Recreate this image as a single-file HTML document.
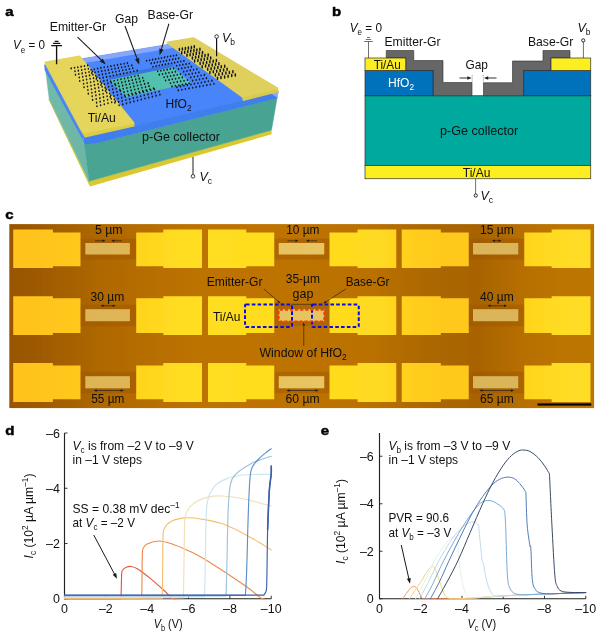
<!DOCTYPE html>
<html lang="en">
<head>
<meta charset="utf-8">
<title>Figure</title>
<style>
html,body{margin:0;padding:0;background:#fff}
svg{display:block}
text{font-family:'Liberation Sans', sans-serif}
</style>
</head>
<body>
<svg width="600" height="638" viewBox="0 0 600 638" fill="#111" style="will-change:transform">
<rect width="600" height="638" fill="#fff"/>
<g id="panel-a">
<defs><linearGradient id="aGf" x1="0" y1="0" x2="1" y2="0"><stop offset="0" stop-color="#49a493"/><stop offset="1" stop-color="#48a392"/></linearGradient><linearGradient id="aGl" x1="0" y1="0" x2="1" y2="1"><stop offset="0" stop-color="#72baaa"/><stop offset="1" stop-color="#6cb6a6"/></linearGradient><linearGradient id="aBt" x1="0" y1="0" x2="0.25" y2="1"><stop offset="0" stop-color="#4e88fa"/><stop offset="0.5" stop-color="#4884fa"/><stop offset="1" stop-color="#4884fa"/></linearGradient><linearGradient id="aY" x1="0" y1="0" x2="1" y2="1"><stop offset="0" stop-color="#ecd056"/><stop offset="1" stop-color="#f0d348"/></linearGradient><linearGradient id="aW" x1="0" y1="0" x2="1" y2="0"><stop offset="0" stop-color="#50beac"/><stop offset="1" stop-color="#54c2b1"/></linearGradient></defs>
<polygon points="49.00,98.50 89.00,181.00 271.50,130.00 271.60,134.20 89.90,186.40 48.50,99.50" fill="#dac832"/>
<polygon points="45.40,69.30 84.60,142.60 89.00,181.30 49.20,99.20" fill="url(#aGl)" stroke="#6fb8a8" stroke-width="0.4"/>
<path d="M84.5 144 Q97 142.6 112 139.2 L277.2 97.8 L271.5 130.2 L89 181.3 Z" fill="url(#aGf)" stroke="#47a690" stroke-width="0.4"/>
<polygon points="44.30,64.00 83.00,136.00 84.60,144.60 84.40,143.00 44.60,70.00" fill="#4a84f4"/>
<polygon points="83.00,136.00 278.50,91.00 277.20,98.30 112.00,139.60 97.00,143.00 84.50,144.60" fill="#407eee"/>
<polygon points="44.50,65.00 194.50,40.00 278.50,92.00 84.00,138.00" fill="url(#aBt)" stroke="#4884fa" stroke-width="0.5"/>
<polygon points="74.64,59.98 174.48,43.34 179.58,46.85 77.77,64.24" fill="#88a6fa"/>
<polygon points="109.00,76.50 173.00,63.80 173.00,67.50 109.00,80.20" fill="#3a74e2"/>
<polygon points="109.00,80.00 173.00,67.30 191.00,83.00 126.00,97.30" fill="url(#aW)"/>
<polygon points="81.50,130.50 87.60,132.00 133.80,123.40 134.00,125.80 85.00,136.80" fill="#dccd45" stroke="#dccd45" stroke-width="1.2" stroke-linejoin="round"/>
<polygon points="45.30,62.60 79.60,56.60 133.40,122.80 87.60,131.40 84.60,132.50 81.50,130.00" fill="#e5d55a" stroke="#e5d55a" stroke-width="2.0" stroke-linejoin="round"/>
<polygon points="270.50,93.20 278.60,91.60 277.40,97.80" fill="#93a9f8"/>
<polygon points="242.60,97.40 277.60,89.20 277.90,91.60 243.40,100.40" fill="#d9cb48" stroke="#d9cb48" stroke-width="1.2" stroke-linejoin="round"/>
<polygon points="167.60,42.60 193.40,38.20 277.40,88.40 242.60,96.60" fill="#dfd05e" stroke="#dfd05e" stroke-width="2.0" stroke-linejoin="round"/>
<path d="M71.2 68.1v0.6M74.5 67.5v0.6M77.8 66.9v0.6M81.1 66.3v0.6M84.4 65.7v0.6M87.7 65.1v0.6M91.0 69.5v0.6M94.3 68.9v0.6M97.6 68.2v0.6M100.9 67.6v0.6M104.2 67.0v0.6M107.6 66.4v0.6M110.9 65.8v0.6M114.2 65.2v0.6M117.5 64.6v0.6M120.8 64.0v0.6M124.1 63.4v0.6M127.4 62.8v0.6M75.0 71.0v0.6M78.3 70.3v0.6M81.7 69.7v0.6M85.0 69.0v0.6M88.4 68.4v0.6M91.7 72.8v0.6M95.0 72.1v0.6M98.4 71.5v0.6M101.7 70.8v0.6M105.1 70.2v0.6M108.4 69.6v0.6M111.7 68.9v0.6M115.1 68.3v0.6M118.4 67.6v0.6M121.7 67.0v0.6M125.1 66.4v0.6M128.4 65.7v0.6M131.8 65.1v0.6M75.5 74.4v0.6M78.8 73.7v0.6M82.2 73.1v0.6M85.6 72.4v0.6M89.0 71.7v0.6M92.3 71.1v0.6M95.7 75.4v0.6M99.1 74.7v0.6M102.4 74.1v0.6M105.8 73.4v0.6M109.2 72.7v0.6M112.6 72.0v0.6M115.9 71.4v0.6M119.3 70.7v0.6M122.7 70.0v0.6M126.1 69.4v0.6M129.4 68.7v0.6M132.8 68.0v0.6M79.3 77.2v0.6M82.7 76.5v0.6M86.1 75.8v0.6M89.5 75.1v0.6M92.9 74.4v0.6M96.3 78.7v0.6M99.7 78.0v0.6M103.2 77.3v0.6M106.6 76.6v0.6M110.0 75.9v0.6M113.4 75.2v0.6M116.8 74.5v0.6M120.2 73.8v0.6M123.6 73.1v0.6M127.0 72.4v0.6M130.4 71.7v0.6M133.8 71.0v0.6M137.2 70.3v0.6M79.7 80.7v0.6M83.2 80.0v0.6M86.6 79.2v0.6M90.1 78.5v0.6M93.5 77.8v0.6M96.9 77.1v0.6M100.4 81.3v0.6M103.8 80.6v0.6M107.3 79.9v0.6M110.7 81.1v0.6M114.1 80.4v0.6M117.6 79.7v0.6M121.0 78.9v0.6M124.5 78.2v0.6M127.9 77.5v0.6M131.3 76.7v0.6M134.8 76.0v0.6M138.2 75.3v0.6M83.6 83.5v0.6M87.1 82.7v0.6M90.6 82.0v0.6M94.0 81.2v0.6M97.5 80.4v0.6M101.0 84.7v0.6M104.5 83.9v0.6M107.9 83.1v0.6M111.4 82.4v0.6M114.9 83.6v0.6M118.3 82.9v0.6M121.8 82.1v0.6M125.3 81.3v0.6M128.8 80.6v0.6M132.2 79.8v0.6M135.7 79.1v0.6M139.2 78.3v0.6M142.7 77.5v0.6M84.0 87.0v0.6M87.5 86.2v0.6M91.0 85.4v0.6M94.5 84.6v0.6M98.0 83.8v0.6M101.6 83.0v0.6M105.1 87.3v0.6M108.6 86.5v0.6M112.1 85.7v0.6M115.6 84.9v0.6M119.1 86.1v0.6M122.6 85.3v0.6M126.1 84.5v0.6M129.6 83.7v0.6M133.1 82.9v0.6M136.6 82.1v0.6M140.1 81.3v0.6M143.6 80.5v0.6M87.9 89.7v0.6M91.5 88.9v0.6M95.0 88.1v0.6M98.6 87.3v0.6M102.1 86.4v0.6M105.6 90.6v0.6M109.2 89.8v0.6M112.7 89.0v0.6M116.2 88.2v0.6M119.8 89.3v0.6M123.3 88.5v0.6M126.9 87.7v0.6M130.4 86.9v0.6M133.9 86.1v0.6M137.5 85.2v0.6M141.0 84.4v0.6M144.6 83.6v0.6M148.1 82.8v0.6M88.3 93.3v0.6M91.9 92.4v0.6M95.4 91.6v0.6M99.0 90.7v0.6M102.6 89.9v0.6M106.2 89.0v0.6M109.7 93.2v0.6M113.3 92.3v0.6M116.9 91.5v0.6M120.5 90.6v0.6M124.0 91.8v0.6M127.6 90.9v0.6M131.2 90.1v0.6M134.7 89.2v0.6M138.3 88.4v0.6M141.9 87.5v0.6M145.5 86.7v0.6M149.0 85.8v0.6M92.2 96.0v0.6M95.9 95.1v0.6M99.5 94.2v0.6M103.1 93.4v0.6M106.7 92.5v0.6M110.3 96.6v0.6M113.9 95.7v0.6M117.5 94.8v0.6M121.1 93.9v0.6M124.7 95.1v0.6M128.3 94.2v0.6M131.9 93.3v0.6M135.5 92.4v0.6M139.1 91.5v0.6M142.7 90.6v0.6M146.3 89.8v0.6M149.9 88.9v0.6M153.5 88.0v0.6M92.6 99.6v0.6M96.2 98.7v0.6M99.9 97.8v0.6M103.5 96.8v0.6M107.1 95.9v0.6M110.8 95.0v0.6M114.4 99.1v0.6M118.1 98.2v0.6M121.7 97.3v0.6M125.3 96.4v0.6M129.0 95.5v0.6M132.6 94.5v0.6M136.2 93.6v0.6M139.9 92.7v0.6M143.5 91.8v0.6M147.2 90.9v0.6M150.8 90.0v0.6M154.4 89.1v0.6M96.6 102.3v0.6M100.2 101.3v0.6M103.9 100.4v0.6M107.6 99.4v0.6M111.2 98.5v0.6M114.9 102.5v0.6M118.6 101.6v0.6M122.3 100.7v0.6M125.9 99.7v0.6M129.6 98.8v0.6M133.3 97.8v0.6M137.0 96.9v0.6M140.6 95.9v0.6M144.3 95.0v0.6M148.0 94.1v0.6M151.6 93.1v0.6M155.3 92.2v0.6M159.0 91.2v0.6M96.9 105.9v0.6M100.6 104.9v0.6M104.3 103.9v0.6M108.0 103.0v0.6M111.7 102.0v0.6M115.4 101.0v0.6M119.1 105.0v0.6M122.8 104.1v0.6M126.5 103.1v0.6M130.2 102.1v0.6M133.9 101.1v0.6M137.6 100.2v0.6M141.3 99.2v0.6M145.0 98.2v0.6M148.7 97.2v0.6M152.4 96.3v0.6M156.1 95.3v0.6M159.9 94.3v0.6M146.6 60.4v0.6M149.6 59.9v0.6M152.6 59.3v0.6M155.6 58.8v0.6M158.6 58.2v0.6M161.5 57.7v0.6M164.5 57.1v0.6M167.5 56.5v0.6M170.5 56.0v0.6M173.5 55.4v0.6M176.4 54.9v0.6M179.4 48.6v2.0M182.4 48.0v2.0M185.4 47.5v2.0M188.4 46.9v2.0M191.4 46.4v2.0M194.3 45.8v2.0M151.3 63.1v0.6M154.4 62.6v0.6M157.4 62.0v0.6M160.4 61.4v0.6M163.5 60.9v0.6M166.5 60.3v0.6M169.5 59.7v0.6M172.6 59.1v0.6M175.6 58.6v0.6M178.7 58.0v0.6M181.7 51.7v2.0M184.7 51.2v2.0M187.8 50.6v2.0M190.8 50.0v2.0M193.9 49.5v2.0M196.9 48.9v2.0M199.9 48.3v2.0M153.0 66.4v0.6M156.1 65.8v0.6M159.2 65.2v0.6M162.3 64.6v0.6M165.4 64.1v0.6M168.4 63.5v0.6M171.5 62.9v0.6M174.6 62.3v0.6M177.7 61.7v0.6M180.8 61.2v0.6M183.9 60.6v0.6M187.0 54.3v2.0M190.1 53.7v2.0M193.2 53.2v2.0M196.3 52.6v2.0M199.4 52.0v2.0M202.5 51.4v2.0M157.7 71.0v0.6M160.9 70.4v0.6M164.0 69.9v0.6M167.2 69.3v0.6M170.3 68.7v0.6M173.5 68.1v0.6M176.6 65.5v0.6M179.8 64.9v0.6M182.9 64.3v0.6M186.1 63.8v0.6M189.3 63.2v0.6M192.4 56.9v2.0M195.6 56.3v2.0M198.7 55.7v2.0M201.9 55.1v2.0M205.0 54.5v2.0M208.2 53.9v2.0M159.3 74.3v0.6M162.5 73.7v0.6M165.7 73.1v0.6M168.9 72.5v0.6M172.2 71.9v0.6M175.4 71.3v0.6M178.6 68.7v0.6M181.8 68.1v0.6M185.0 67.5v0.6M188.2 66.9v0.6M191.4 66.3v0.6M194.6 60.0v2.0M197.9 59.4v2.0M201.1 58.8v2.0M204.3 58.2v2.0M207.5 57.6v2.0M210.7 57.0v2.0M164.1 76.9v0.6M167.4 76.3v0.6M170.6 75.7v0.6M173.9 75.1v0.6M177.2 74.5v0.6M180.5 73.9v0.6M183.7 71.3v0.6M187.0 70.7v0.6M190.3 70.1v0.6M193.5 69.5v0.6M196.8 68.9v0.6M200.1 62.6v2.0M203.3 62.0v2.0M206.6 61.4v2.0M209.9 60.8v2.0M213.2 60.2v2.0M216.4 59.6v2.0M165.6 80.2v0.6M169.0 79.6v0.6M172.3 79.0v0.6M175.6 78.4v0.6M179.0 77.7v0.6M182.3 77.1v0.6M185.6 74.5v0.6M188.9 73.9v0.6M192.3 73.3v0.6M195.6 72.7v0.6M198.9 72.1v0.6M202.2 65.7v2.0M205.6 65.1v2.0M208.9 64.5v2.0M212.2 63.9v2.0M215.6 63.3v2.0M218.9 62.7v2.0M170.5 82.9v0.6M173.9 82.2v0.6M177.3 81.6v0.6M180.7 81.0v0.6M184.0 80.4v0.6M187.4 79.7v0.6M190.8 77.1v0.6M194.2 76.5v0.6M197.6 75.9v0.6M201.0 75.2v0.6M204.4 74.6v0.6M207.7 68.3v2.0M211.1 67.7v2.0M214.5 67.0v2.0M217.9 66.4v2.0M221.3 65.8v2.0M224.7 65.2v2.0M172.0 86.1v0.6M175.4 85.5v0.6M178.9 84.9v0.6M182.3 84.2v0.6M185.8 83.6v0.6M189.2 83.0v0.6M192.6 80.3v0.6M196.1 79.7v0.6M199.5 79.1v0.6M203.0 78.4v0.6M206.4 77.8v0.6M209.9 71.4v2.0M213.3 70.8v2.0M216.7 70.2v2.0M220.2 69.5v2.0M223.6 68.9v2.0M227.1 68.3v2.0M176.9 86.8v0.6M180.4 86.1v0.6M183.9 85.5v0.6M187.4 84.8v0.6M190.9 84.2v0.6M194.4 83.5v0.6M197.9 82.9v0.6M201.4 82.3v0.6M204.9 81.6v0.6M208.4 81.0v0.6M211.9 80.3v0.6M215.4 74.0v2.0M218.9 73.3v2.0M222.4 72.7v2.0M225.9 72.0v2.0M229.4 71.4v2.0M232.9 70.8v2.0M178.3 90.1v0.6M181.9 89.4v0.6M185.4 88.7v0.6M189.0 88.1v0.6M192.6 87.4v0.6M196.1 86.8v0.6M199.7 86.1v0.6M203.2 85.5v0.6M206.8 84.8v0.6M210.3 84.2v0.6M213.9 83.5v0.6M217.5 77.2v2.0M221.0 76.5v2.0M224.6 75.9v2.0M228.1 75.2v2.0M231.7 74.5v2.0M235.3 73.9v2.0" stroke="#15151c" stroke-width="1.5" stroke-linecap="round" fill="none"/>
<path d="M56.6 45.6V64.3M51.2 45.6H62" stroke="#111" stroke-width="1.35" fill="none"/>
<path d="M52.9 43.3H60.3M54.7 41.3H58.5" stroke="#111" stroke-width="1.15" fill="none"/>
<path d="M216.6 38.3V56.3" stroke="#111" stroke-width="1.2"/><circle cx="216.6" cy="36.5" r="1.8" fill="#fff" stroke="#111" stroke-width="0.8"/>
<path d="M193 157V174.5" stroke="#333" stroke-width="1.1"/><circle cx="193" cy="176.3" r="1.8" fill="#fff" stroke="#111" stroke-width="0.8"/>
<line x1="77.50" y1="37.20" x2="102.17" y2="60.91" stroke="#1a1a1a" stroke-width="1.05"/><polygon points="105.80,64.40 99.73,61.62 102.78,58.45" fill="#1a1a1a"/>
<line x1="125.00" y1="26.00" x2="137.55" y2="59.97" stroke="#1a1a1a" stroke-width="1.05"/><polygon points="139.30,64.70 135.05,59.55 139.18,58.03" fill="#1a1a1a"/>
<line x1="168.90" y1="23.75" x2="161.03" y2="50.37" stroke="#1a1a1a" stroke-width="1.05"/><polygon points="159.60,55.20 159.28,48.53 163.50,49.78" fill="#1a1a1a"/>
<text x="4.82" y="16.30" font-size="13.6" fill="#000" font-weight="bold" stroke="#000" stroke-width="0.5" transform="scale(1.1 1)">a</text>
<text x="13.00" y="49.25" font-size="13.2" textLength="32.00" lengthAdjust="spacingAndGlyphs"><tspan font-style="italic">V</tspan><tspan font-size="9.0" dy="3.30">e</tspan><tspan dy="-3.30"> = 0</tspan></text>
<text x="49.80" y="31.00" font-size="13.2" textLength="56.30" lengthAdjust="spacingAndGlyphs">Emitter-Gr</text>
<text x="115.00" y="22.50" font-size="13.2" textLength="23.00" lengthAdjust="spacingAndGlyphs">Gap</text>
<text x="147.50" y="19.25" font-size="13.2" textLength="45.50" lengthAdjust="spacingAndGlyphs">Base-Gr</text>
<text x="222.00" y="41.75" font-size="13.2" textLength="13.05" lengthAdjust="spacingAndGlyphs"><tspan font-style="italic">V</tspan><tspan font-size="9.0" dy="3.30">b</tspan></text>
<text x="165.50" y="107.50" font-size="13.2" textLength="26.00" lengthAdjust="spacingAndGlyphs">HfO<tspan font-size="9.0" dy="3.30">2</tspan></text>
<text x="87.80" y="121.50" font-size="13.2" textLength="28.00" lengthAdjust="spacingAndGlyphs">Ti/Au</text>
<text x="142.00" y="140.70" font-size="13.2" textLength="78.00" lengthAdjust="spacingAndGlyphs">p-Ge collector</text>
<text x="199.50" y="181.00" font-size="13.2" textLength="12.57" lengthAdjust="spacingAndGlyphs"><tspan font-style="italic">V</tspan><tspan font-size="9.0" dy="3.30">c</tspan></text>
</g>
<g id="panel-b">
<rect x="365.00" y="95.75" width="225.75" height="69.75" fill="#00a99d" stroke="#2e2e2e" stroke-width="0.7"/>
<rect x="365.00" y="165.50" width="225.75" height="13.25" fill="#fcee21" stroke="#2e2e2e" stroke-width="0.7"/>
<polygon points="386.25,50.50 413.75,50.50 413.75,60.50 443.00,60.50 443.00,82.50 472.00,82.50 472.00,95.75 433.00,95.75 433.00,70.50 405.75,70.50 405.75,58.00 386.25,58.00" fill="#666666" stroke="#2e2e2e" stroke-width="0.6"/>
<polygon points="483.50,82.75 512.50,82.75 512.50,61.00 543.00,61.00 543.00,50.50 570.00,50.50 570.00,58.00 551.00,58.00 551.00,70.50 523.75,70.50 523.75,95.75 483.50,95.75" fill="#666666" stroke="#2e2e2e" stroke-width="0.6"/>
<rect x="365.00" y="70.50" width="68.00" height="25.25" fill="#0072bc" stroke="#2e2e2e" stroke-width="0.7"/>
<rect x="523.75" y="70.50" width="67.00" height="25.25" fill="#0072bc" stroke="#2e2e2e" stroke-width="0.7"/>
<rect x="365.00" y="58.00" width="40.75" height="12.50" fill="#fcee21" stroke="#2e2e2e" stroke-width="0.7"/>
<rect x="551.00" y="58.00" width="39.75" height="12.50" fill="#fcee21" stroke="#2e2e2e" stroke-width="0.7"/>
<path d="M472.2 75V82.5M483.3 75V82.5" stroke="#333" stroke-width="0.5" stroke-dasharray="1 0.8" fill="none"/>
<line x1="459.50" y1="78.00" x2="468.24" y2="78.00" stroke="#1a1a1a" stroke-width="0.9"/><polygon points="471.60,78.00 467.40,79.70 467.40,76.30" fill="#1a1a1a"/>
<line x1="496.50" y1="78.00" x2="487.36" y2="78.00" stroke="#1a1a1a" stroke-width="0.9"/><polygon points="484.00,78.00 488.20,76.30 488.20,79.70" fill="#1a1a1a"/>
<path d="M368.5 41.5V58M364.2 41.5H372.8M365.8 39.5H371.2M367 37.5H370" stroke="#333" stroke-width="0.7" fill="none"/>
<path d="M583.4 42V58" stroke="#333" stroke-width="0.7"/><circle cx="583.25" cy="40.4" r="1.6" fill="#fff" stroke="#111" stroke-width="0.9"/>
<path d="M475.6 178.75V194" stroke="#333" stroke-width="0.7"/><circle cx="475.75" cy="195.5" r="1.6" fill="#fff" stroke="#111" stroke-width="0.9"/>
<text x="301.91" y="16.20" font-size="13.6" fill="#000" font-weight="bold" stroke="#000" stroke-width="0.5" transform="scale(1.1 1)">b</text>
<text x="349.70" y="31.70" font-size="13.2" textLength="32.40" lengthAdjust="spacingAndGlyphs"><tspan font-style="italic">V</tspan><tspan font-size="9.0" dy="3.30">e</tspan><tspan dy="-3.30"> = 0</tspan></text>
<text x="384.50" y="46.25" font-size="13.2" textLength="56.00" lengthAdjust="spacingAndGlyphs">Emitter-Gr</text>
<text x="373.75" y="68.75" font-size="13.2" textLength="27.00" lengthAdjust="spacingAndGlyphs">Ti/Au</text>
<text x="388.00" y="86.75" font-size="13.2" fill="#fff" textLength="26.00" lengthAdjust="spacingAndGlyphs">HfO<tspan font-size="9.0" dy="3.30">2</tspan></text>
<text x="465.50" y="68.50" font-size="13.2" textLength="22.50" lengthAdjust="spacingAndGlyphs">Gap</text>
<text x="528.00" y="46.25" font-size="13.2" textLength="45.25" lengthAdjust="spacingAndGlyphs">Base-Gr</text>
<text x="577.50" y="31.70" font-size="13.2" textLength="13.05" lengthAdjust="spacingAndGlyphs"><tspan font-style="italic">V</tspan><tspan font-size="9.0" dy="3.30">b</tspan></text>
<text x="440.00" y="135.00" font-size="13.2" textLength="78.20" lengthAdjust="spacingAndGlyphs">p-Ge collector</text>
<text x="462.80" y="176.75" font-size="13.2" textLength="27.60" lengthAdjust="spacingAndGlyphs">Ti/Au</text>
<text x="480.50" y="199.75" font-size="13.2" textLength="12.57" lengthAdjust="spacingAndGlyphs"><tspan font-style="italic">V</tspan><tspan font-size="9.0" dy="3.30">c</tspan></text>
</g>
<g id="panel-c">
<defs><linearGradient id="cbg" gradientUnits="userSpaceOnUse" x1="9.3" y1="0" x2="594.1" y2="0"><stop offset="0.000" stop-color="#985500"/><stop offset="0.052" stop-color="#9e5a00"/><stop offset="0.155" stop-color="#ae6800"/><stop offset="0.241" stop-color="#b76e00"/><stop offset="0.326" stop-color="#bd7300"/><stop offset="0.497" stop-color="#be7300"/><stop offset="0.617" stop-color="#ba7100"/><stop offset="0.668" stop-color="#b26c00"/><stop offset="0.736" stop-color="#aa6600"/><stop offset="0.805" stop-color="#a86400"/><stop offset="0.873" stop-color="#b66e00"/><stop offset="0.942" stop-color="#bc7401"/><stop offset="1.000" stop-color="#bc7401"/></linearGradient><linearGradient id="pad" gradientUnits="userSpaceOnUse" x1="9.3" y1="0" x2="594.1" y2="0"><stop offset="0.000" stop-color="#ffc21c"/><stop offset="0.095" stop-color="#ffc61a"/><stop offset="0.172" stop-color="#ffcf1c"/><stop offset="0.241" stop-color="#ffd61e"/><stop offset="0.300" stop-color="#ffde22"/><stop offset="0.429" stop-color="#ffdd1e"/><stop offset="0.634" stop-color="#ffda20"/><stop offset="0.702" stop-color="#ffcc1e"/><stop offset="0.762" stop-color="#ffc81c"/><stop offset="0.822" stop-color="#ffcb1c"/><stop offset="0.907" stop-color="#ffd81e"/><stop offset="0.959" stop-color="#ffdc26"/><stop offset="1.000" stop-color="#ffdc26"/></linearGradient><linearGradient id="stp" gradientUnits="userSpaceOnUse" x1="9.3" y1="0" x2="594.1" y2="0"><stop offset="0.000" stop-color="#dcb456"/><stop offset="0.206" stop-color="#deb658"/><stop offset="0.463" stop-color="#e7c361"/><stop offset="0.538" stop-color="#e8c462"/><stop offset="0.793" stop-color="#dbb55a"/><stop offset="1.000" stop-color="#dab45a"/></linearGradient><filter id="cblur" filterUnits="userSpaceOnUse" x="0" y="215" width="600" height="200"><feGaussianBlur stdDeviation="0.55"/></filter></defs>
<g filter="url(#cblur)">
<rect x="9.30" y="224.10" width="584.80" height="184.00" fill="url(#cbg)"/>
<rect x="79.50" y="238.50" width="57.70" height="21.00" fill="#9c5200" opacity="0.4"/>
<polygon points="13.20,229.60 52.90,229.60 52.90,232.50 80.50,232.50 80.50,266.25 52.90,266.25 52.90,268.00 13.20,268.00" fill="url(#pad)"/>
<polygon points="136.20,232.50 163.30,232.50 163.30,229.60 202.00,229.60 202.00,268.00 163.30,268.00 163.30,266.25 136.20,266.25" fill="url(#pad)"/>
<rect x="85.30" y="243.00" width="44.60" height="11.50" fill="url(#stp)"/>
<rect x="273.25" y="238.50" width="57.25" height="21.00" fill="#9c5200" opacity="0.4"/>
<polygon points="208.00,229.60 246.25,229.60 246.25,232.50 274.25,232.50 274.25,266.25 246.25,266.25 246.25,268.00 208.00,268.00" fill="url(#pad)"/>
<polygon points="329.50,232.50 357.50,232.50 357.50,229.60 396.25,229.60 396.25,268.00 357.50,268.00 357.50,266.25 329.50,266.25" fill="url(#pad)"/>
<rect x="278.75" y="243.00" width="45.50" height="11.50" fill="url(#stp)"/>
<rect x="467.75" y="238.50" width="57.50" height="21.00" fill="#9c5200" opacity="0.4"/>
<polygon points="401.75,229.60 440.80,229.60 440.80,232.50 468.75,232.50 468.75,266.25 440.80,266.25 440.80,268.00 401.75,268.00" fill="url(#pad)"/>
<polygon points="524.25,232.50 551.60,232.50 551.60,229.60 590.50,229.60 590.50,268.00 551.60,268.00 551.60,266.25 524.25,266.25" fill="url(#pad)"/>
<rect x="473.00" y="243.00" width="45.25" height="11.50" fill="url(#stp)"/>
<rect x="79.50" y="304.70" width="57.70" height="21.50" fill="#9c5200" opacity="0.4"/>
<polygon points="13.20,296.30 52.90,296.30 52.90,298.25 80.50,298.25 80.50,333.00 52.90,333.00 52.90,335.00 13.20,335.00" fill="url(#pad)"/>
<polygon points="136.20,298.25 163.30,298.25 163.30,296.30 202.00,296.30 202.00,335.00 163.30,335.00 163.30,333.00 136.20,333.00" fill="url(#pad)"/>
<rect x="85.30" y="309.20" width="44.60" height="12.00" fill="url(#stp)"/>
<rect x="273.25" y="304.70" width="57.25" height="21.50" fill="#9c5200" opacity="0.4"/>
<polygon points="208.00,296.30 246.25,296.30 246.25,298.25 274.25,298.25 274.25,333.00 246.25,333.00 246.25,335.00 208.00,335.00" fill="url(#pad)"/>
<polygon points="329.50,298.25 357.50,298.25 357.50,296.30 396.25,296.30 396.25,335.00 357.50,335.00 357.50,333.00 329.50,333.00" fill="url(#pad)"/>
<rect x="278.75" y="309.20" width="45.50" height="12.00" fill="url(#stp)"/>
<rect x="467.75" y="304.70" width="57.50" height="21.50" fill="#9c5200" opacity="0.4"/>
<polygon points="401.75,296.30 440.80,296.30 440.80,298.25 468.75,298.25 468.75,333.00 440.80,333.00 440.80,335.00 401.75,335.00" fill="url(#pad)"/>
<polygon points="524.25,298.25 551.60,298.25 551.60,296.30 590.50,296.30 590.50,335.00 551.60,335.00 551.60,333.00 524.25,333.00" fill="url(#pad)"/>
<rect x="473.00" y="309.20" width="45.25" height="12.00" fill="url(#stp)"/>
<rect x="79.50" y="371.70" width="57.70" height="21.60" fill="#9c5200" opacity="0.4"/>
<polygon points="13.20,363.00 52.90,363.00 52.90,365.50 80.50,365.50 80.50,399.25 52.90,399.25 52.90,402.00 13.20,402.00" fill="url(#pad)"/>
<polygon points="136.20,365.50 163.30,365.50 163.30,363.00 202.00,363.00 202.00,402.00 163.30,402.00 163.30,399.25 136.20,399.25" fill="url(#pad)"/>
<rect x="85.30" y="376.20" width="44.60" height="12.10" fill="url(#stp)"/>
<rect x="273.25" y="371.70" width="57.25" height="21.60" fill="#9c5200" opacity="0.4"/>
<polygon points="208.00,363.00 246.25,363.00 246.25,365.50 274.25,365.50 274.25,399.25 246.25,399.25 246.25,402.00 208.00,402.00" fill="url(#pad)"/>
<polygon points="329.50,365.50 357.50,365.50 357.50,363.00 396.25,363.00 396.25,402.00 357.50,402.00 357.50,399.25 329.50,399.25" fill="url(#pad)"/>
<rect x="278.75" y="376.20" width="45.50" height="12.10" fill="url(#stp)"/>
<rect x="467.75" y="371.70" width="57.50" height="21.60" fill="#9c5200" opacity="0.4"/>
<polygon points="401.75,363.00 440.80,363.00 440.80,365.50 468.75,365.50 468.75,399.25 440.80,399.25 440.80,402.00 401.75,402.00" fill="url(#pad)"/>
<polygon points="524.25,365.50 551.60,365.50 551.60,363.00 590.50,363.00 590.50,402.00 551.60,402.00 551.60,399.25 524.25,399.25" fill="url(#pad)"/>
<rect x="473.00" y="376.20" width="45.25" height="12.10" fill="url(#stp)"/>
</g>
<rect x="245" y="304.5" width="47" height="22.5" rx="1" fill="none" stroke="#0c0ce8" stroke-width="2" stroke-dasharray="3.6 2.2"/>
<rect x="312" y="304.5" width="46.75" height="22.5" rx="1" fill="none" stroke="#0c0ce8" stroke-width="2" stroke-dasharray="3.6 2.2"/>
<rect x="278.75" y="309.8" width="45.5" height="11.6" rx="1" fill="none" stroke="#ff3a0c" stroke-width="1.8" stroke-dasharray="3.2 1.9"/>
<path d="M291.5 304.3H312" stroke="#1a1a1a" stroke-width="0.6" fill="none"/>
<line x1="263.75" y1="288.75" x2="278.58" y2="301.81" stroke="#1a1a1a" stroke-width="0.6"/><polygon points="280.50,303.50 277.31,302.29 278.89,300.48" fill="#1a1a1a"/>
<line x1="346.25" y1="288.75" x2="325.40" y2="302.12" stroke="#1a1a1a" stroke-width="0.6"/><polygon points="323.25,303.50 325.30,300.76 326.59,302.78" fill="#1a1a1a"/>
<line x1="303.75" y1="346.00" x2="303.75" y2="324.86" stroke="#1a1a1a" stroke-width="0.6"/><polygon points="303.75,322.30 304.95,325.50 302.55,325.50" fill="#1a1a1a"/>
<rect x="537.50" y="403.40" width="53.75" height="2.20" fill="#000"/>
<text x="4.82" y="218.90" font-size="13.6" fill="#000" font-weight="bold" stroke="#000" stroke-width="0.5" transform="scale(1.1 1)">c</text>
<text x="95.00" y="234.25" font-size="13.2" fill="#0d0d0d" textLength="27.50" lengthAdjust="spacingAndGlyphs">5 µm</text>
<text x="286.25" y="234.25" font-size="13.2" fill="#0d0d0d" textLength="33.25" lengthAdjust="spacingAndGlyphs">10 µm</text>
<text x="480.00" y="234.25" font-size="13.2" fill="#0d0d0d" textLength="33.75" lengthAdjust="spacingAndGlyphs">15 µm</text>
<text x="90.50" y="300.50" font-size="13.2" fill="#0d0d0d" textLength="33.75" lengthAdjust="spacingAndGlyphs">30 µm</text>
<text x="480.00" y="300.50" font-size="13.2" fill="#0d0d0d" textLength="33.75" lengthAdjust="spacingAndGlyphs">40 µm</text>
<text x="91.25" y="403.00" font-size="13.2" fill="#0d0d0d" textLength="33.00" lengthAdjust="spacingAndGlyphs">55 µm</text>
<text x="285.50" y="403.00" font-size="13.2" fill="#0d0d0d" textLength="34.00" lengthAdjust="spacingAndGlyphs">60 µm</text>
<text x="480.00" y="403.00" font-size="13.2" fill="#0d0d0d" textLength="33.75" lengthAdjust="spacingAndGlyphs">65 µm</text>
<text x="285.75" y="283.00" font-size="13.2" fill="#0d0d0d" textLength="34.25" lengthAdjust="spacingAndGlyphs">35-µm</text>
<text x="303.00" y="297.80" font-size="13.2" text-anchor="middle" fill="#0d0d0d" textLength="20.81" lengthAdjust="spacingAndGlyphs">gap</text>
<text x="206.75" y="286.30" font-size="13.2" fill="#0d0d0d" textLength="55.75" lengthAdjust="spacingAndGlyphs">Emitter-Gr</text>
<text x="345.75" y="286.30" font-size="13.2" fill="#0d0d0d" textLength="43.75" lengthAdjust="spacingAndGlyphs">Base-Gr</text>
<text x="213.00" y="320.50" font-size="13.2" fill="#0d0d0d" textLength="27.50" lengthAdjust="spacingAndGlyphs">Ti/Au</text>
<text x="259.50" y="356.75" font-size="13.2" fill="#0d0d0d" textLength="87.25" lengthAdjust="spacingAndGlyphs">Window of HfO<tspan font-size="9.0" dy="3.30">2</tspan></text>
<line x1="95.00" y1="240.75" x2="103.10" y2="240.75" stroke="#1a1a1a" stroke-width="0.6"/><polygon points="105.50,240.75 102.50,241.95 102.50,239.55" fill="#1a1a1a"/>
<line x1="122.00" y1="240.75" x2="113.65" y2="240.75" stroke="#1a1a1a" stroke-width="0.6"/><polygon points="111.25,240.75 114.25,239.55 114.25,241.95" fill="#1a1a1a"/>
<line x1="287.50" y1="240.75" x2="296.10" y2="240.75" stroke="#1a1a1a" stroke-width="0.6"/><polygon points="298.50,240.75 295.50,241.95 295.50,239.55" fill="#1a1a1a"/>
<line x1="317.00" y1="240.75" x2="308.40" y2="240.75" stroke="#1a1a1a" stroke-width="0.6"/><polygon points="306.00,240.75 309.00,239.55 309.00,241.95" fill="#1a1a1a"/>
<line x1="494.40" y1="240.75" x2="499.10" y2="240.75" stroke="#1a1a1a" stroke-width="0.6"/><polygon points="501.50,240.75 498.50,241.95 498.50,239.55" fill="#1a1a1a"/><polygon points="492.00,240.75 495.00,241.95 495.00,239.55" fill="#1a1a1a"/>
<line x1="102.90" y1="305.75" x2="113.35" y2="305.75" stroke="#1a1a1a" stroke-width="0.6"/><polygon points="115.75,305.75 112.75,306.95 112.75,304.55" fill="#1a1a1a"/><polygon points="100.50,305.75 103.50,306.95 103.50,304.55" fill="#1a1a1a"/>
<line x1="489.90" y1="305.75" x2="504.60" y2="305.75" stroke="#1a1a1a" stroke-width="0.6"/><polygon points="507.00,305.75 504.00,306.95 504.00,304.55" fill="#1a1a1a"/><polygon points="487.50,305.75 490.50,306.95 490.50,304.55" fill="#1a1a1a"/>
<line x1="96.15" y1="390.50" x2="121.35" y2="390.50" stroke="#1a1a1a" stroke-width="0.6"/><polygon points="123.75,390.50 120.75,391.70 120.75,389.30" fill="#1a1a1a"/><polygon points="93.75,390.50 96.75,391.70 96.75,389.30" fill="#1a1a1a"/>
<line x1="288.90" y1="390.50" x2="316.10" y2="390.50" stroke="#1a1a1a" stroke-width="0.6"/><polygon points="318.50,390.50 315.50,391.70 315.50,389.30" fill="#1a1a1a"/><polygon points="286.50,390.50 289.50,391.70 289.50,389.30" fill="#1a1a1a"/>
<line x1="481.90" y1="390.50" x2="511.60" y2="390.50" stroke="#1a1a1a" stroke-width="0.6"/><polygon points="514.00,390.50 511.00,391.70 511.00,389.30" fill="#1a1a1a"/><polygon points="479.50,390.50 482.50,391.70 482.50,389.30" fill="#1a1a1a"/>
</g>
<g id="panel-d">
<path d="M64.5 433V598.75H271.25" fill="none" stroke="#222" stroke-width="1.15"/>
<path d="M64.50 598.75v-3M105.85 598.75v-3M147.20 598.75v-3M188.55 598.75v-3M229.90 598.75v-3M271.25 598.75v-3M64.5 598.75h3M64.5 543.51h3M64.5 488.27h3M64.5 433.03h3" fill="none" stroke="#222" stroke-width="0.9"/>
<text x="64.50" y="613.15" font-size="13.2" text-anchor="middle" textLength="6.94" lengthAdjust="spacingAndGlyphs">0</text>
<text x="105.85" y="613.15" font-size="13.2" text-anchor="middle" textLength="13.88" lengthAdjust="spacingAndGlyphs">–2</text>
<text x="147.20" y="613.15" font-size="13.2" text-anchor="middle" textLength="13.88" lengthAdjust="spacingAndGlyphs">–4</text>
<text x="188.55" y="613.15" font-size="13.2" text-anchor="middle" textLength="13.88" lengthAdjust="spacingAndGlyphs">–6</text>
<text x="229.90" y="613.15" font-size="13.2" text-anchor="middle" textLength="13.88" lengthAdjust="spacingAndGlyphs">–8</text>
<text x="271.25" y="613.15" font-size="13.2" text-anchor="middle" textLength="20.81" lengthAdjust="spacingAndGlyphs">–10</text>
<text x="60.00" y="603.35" font-size="13.2" text-anchor="end" textLength="6.94" lengthAdjust="spacingAndGlyphs">0</text>
<text x="60.00" y="548.11" font-size="13.2" text-anchor="end" textLength="13.88" lengthAdjust="spacingAndGlyphs">–2</text>
<text x="60.00" y="492.87" font-size="13.2" text-anchor="end" textLength="13.88" lengthAdjust="spacingAndGlyphs">–4</text>
<text x="60.00" y="437.63" font-size="13.2" text-anchor="end" textLength="13.88" lengthAdjust="spacingAndGlyphs">–6</text>
<path d="M64.50 598.75L120.84 598.75C121.32 594.15 121.39 578.63 121.67 573.89C121.94 569.15 122.11 570.85 122.91 569.75C123.70 568.64 125.15 567.82 126.42 567.26C127.70 566.71 128.66 566.16 130.56 566.43C132.45 566.71 134.42 566.85 137.79 568.92C141.17 570.99 146.34 575.18 150.82 578.86C155.30 582.55 161.16 587.84 164.67 591.02C168.19 594.19 169.84 596.63 171.91 597.92C173.97 599.21 176.21 598.61 177.08 598.75" fill="none" stroke="#e25a3c" stroke-width="1.15" stroke-linejoin="round" stroke-linecap="round"/>
<path d="M64.50 598.75L141.72 598.75C142.00 590.69 142.07 562.94 142.34 554.56C142.62 546.18 142.79 549.40 143.58 547.65C144.37 545.90 144.62 545.17 147.10 544.06C149.58 542.96 154.51 541.12 158.47 541.02C162.43 540.93 165.70 541.81 170.87 543.51C176.04 545.21 183.62 548.48 189.48 551.24C195.34 554.01 196.61 554.24 206.02 560.08C215.43 565.93 236.90 580.06 245.92 586.32C254.95 592.58 257.19 595.57 260.19 597.65C263.19 599.72 263.29 598.57 263.91 598.75" fill="none" stroke="#ee8a50" stroke-width="1.15" stroke-linejoin="round" stroke-linecap="round"/>
<path d="M64.50 598.20L162.19 598.20C162.67 587.47 162.67 549.49 163.02 537.99C163.36 526.48 163.36 531.08 164.67 528.32C165.98 525.56 167.43 523.16 170.87 521.41C174.32 519.66 180.18 518.19 185.35 517.82C190.51 517.46 195.13 518.01 201.89 519.20C208.64 520.40 217.60 521.87 225.87 525.00C234.14 528.13 243.94 533.84 251.51 537.99C259.07 542.13 267.96 547.88 271.25 549.86" fill="none" stroke="#f5bf6e" stroke-width="1.15" stroke-linejoin="round" stroke-linecap="round"/>
<path d="M64.50 597.65L183.28 597.65C184.00 585.40 184.10 540.93 184.52 526.94C184.93 512.94 184.86 517.04 186.38 513.13C187.90 509.22 190.00 506.13 193.62 503.46C197.23 500.79 203.26 498.35 208.09 497.11C212.91 495.87 216.70 495.73 222.56 496.00C228.42 496.28 235.12 497.06 243.24 498.77C251.35 500.47 266.58 504.98 271.25 506.22" fill="none" stroke="#efe2b6" stroke-width="1.15" stroke-linejoin="round" stroke-linecap="round"/>
<path d="M64.50 596.82L204.37 596.82C205.33 583.56 205.47 537.85 206.02 521.41C206.57 504.98 206.85 503.46 208.50 497.38C210.16 491.31 212.91 488.09 215.94 484.96C218.98 481.83 222.49 480.21 226.70 478.60C230.90 476.99 236.34 475.98 241.17 475.29C245.99 474.60 250.63 474.60 255.64 474.46C260.65 474.32 268.65 474.46 271.25 474.46" fill="none" stroke="#cee4ee" stroke-width="1.15" stroke-linejoin="round" stroke-linecap="round"/>
<path d="M64.50 595.99L225.87 595.99C226.90 581.95 227.32 534.40 227.94 515.89C228.56 497.38 228.90 491.26 230.42 484.13C231.93 476.99 233.62 476.49 237.03 473.08C240.44 469.67 246.75 465.99 250.89 463.69C255.02 461.39 258.45 460.51 261.84 459.27C265.24 458.03 269.68 456.74 271.25 456.23" fill="none" stroke="#9cc3df" stroke-width="1.15" stroke-linejoin="round" stroke-linecap="round"/>
<path d="M64.50 595.44L245.30 595.44C246.75 583.56 247.23 548.76 247.78 529.70C248.34 510.64 249.06 490.48 249.85 479.98C250.64 469.49 250.89 470.41 252.54 466.73C254.19 463.04 257.36 460.37 259.78 457.89C262.19 455.40 265.10 453.33 267.01 451.81C268.92 450.29 270.54 449.28 271.25 448.77" fill="none" stroke="#5e8fc8" stroke-width="1.15" stroke-linejoin="round" stroke-linecap="round"/>
<path d="M64.50 595.16L263.91 595.16C266.12 591.38 266.53 592.77 266.80 582.18C267.08 571.59 267.22 544.89 267.63 529.70C268.05 514.51 268.70 500.24 269.29 491.03C269.87 481.83 270.82 478.60 271.15 474.46C271.47 470.32 271.23 467.55 271.25 466.17" fill="none" stroke="#3b61a8" stroke-width="1.15" stroke-linejoin="round" stroke-linecap="round"/>
<path d="M267.63 529.70C267.91 523.26 268.70 500.24 269.29 491.03C269.87 481.83 270.82 478.60 271.15 474.46C271.47 470.32 271.23 467.55 271.25 466.17" fill="none" stroke="#3b61a8" stroke-width="1.6" stroke-linejoin="round" stroke-linecap="round"/>
<text x="4.82" y="434.60" font-size="13.6" fill="#000" font-weight="bold" stroke="#000" stroke-width="0.5" transform="scale(1.1 1)">d</text>
<text x="72.50" y="450.00" font-size="13.2" textLength="121.25" lengthAdjust="spacingAndGlyphs"><tspan font-style="italic">V</tspan><tspan font-size="9.0" dy="3.30">c</tspan><tspan dy="-3.30"> is from –2 V to –9 V</tspan></text>
<text x="72.50" y="464.25" font-size="13.2" textLength="69.50" lengthAdjust="spacingAndGlyphs">in –1 V steps</text>
<text x="72.50" y="512.50" font-size="13.2" textLength="107.00" lengthAdjust="spacingAndGlyphs">SS = 0.38 mV dec<tspan font-size="9.0" dy="-4.40">–1</tspan></text>
<text x="72.50" y="526.75" font-size="13.2" textLength="62.50" lengthAdjust="spacingAndGlyphs">at <tspan font-style="italic">V</tspan><tspan font-size="9.0" dy="3.30">c</tspan><tspan dy="-3.30"> = –2 V</tspan></text>
<line x1="93.75" y1="535.00" x2="114.94" y2="574.86" stroke="#1a1a1a" stroke-width="1.0"/><polygon points="117.00,578.75 112.65,574.83 116.19,572.95" fill="#1a1a1a"/>
<text x="153.75" y="628.00" font-size="13.2" textLength="28.75" lengthAdjust="spacingAndGlyphs"><tspan font-style="italic">V</tspan><tspan font-size="9.0" dy="3.30">b</tspan><tspan dy="-3.30"> (V)</tspan></text>
<text x="0.00" y="0.00" font-size="13.2" text-anchor="middle" transform="translate(32.5 516) rotate(-90)" textLength="85.00" lengthAdjust="spacingAndGlyphs"><tspan font-style="italic">I</tspan><tspan font-size="9.0" dy="3.30">c</tspan><tspan dy="-3.30"> (10</tspan><tspan font-size="9.0" dy="-4.40">2</tspan><tspan dy="4.40"> µA µm</tspan><tspan font-size="9.0" dy="-4.40">–1</tspan><tspan dy="4.40">)</tspan></text>
</g>
<g id="panel-e">
<path d="M379.5 433V598.75H585.75" fill="none" stroke="#222" stroke-width="1.15"/>
<path d="M379.50 598.75v-3M420.75 598.75v-3M462.00 598.75v-3M503.25 598.75v-3M544.50 598.75v-3M585.75 598.75v-3M379.5 598.75h3M379.5 551.25h3M379.5 503.75h3M379.5 456.25h3" fill="none" stroke="#222" stroke-width="0.9"/>
<text x="379.50" y="613.15" font-size="13.2" text-anchor="middle" textLength="6.94" lengthAdjust="spacingAndGlyphs">0</text>
<text x="420.75" y="613.15" font-size="13.2" text-anchor="middle" textLength="13.88" lengthAdjust="spacingAndGlyphs">–2</text>
<text x="462.00" y="613.15" font-size="13.2" text-anchor="middle" textLength="13.88" lengthAdjust="spacingAndGlyphs">–4</text>
<text x="503.25" y="613.15" font-size="13.2" text-anchor="middle" textLength="13.88" lengthAdjust="spacingAndGlyphs">–6</text>
<text x="544.50" y="613.15" font-size="13.2" text-anchor="middle" textLength="13.88" lengthAdjust="spacingAndGlyphs">–8</text>
<text x="585.75" y="613.15" font-size="13.2" text-anchor="middle" textLength="20.81" lengthAdjust="spacingAndGlyphs">–10</text>
<text x="373.80" y="603.35" font-size="13.2" text-anchor="end" textLength="6.94" lengthAdjust="spacingAndGlyphs">0</text>
<text x="373.80" y="555.85" font-size="13.2" text-anchor="end" textLength="13.88" lengthAdjust="spacingAndGlyphs">–2</text>
<text x="373.80" y="508.35" font-size="13.2" text-anchor="end" textLength="13.88" lengthAdjust="spacingAndGlyphs">–4</text>
<text x="373.80" y="460.85" font-size="13.2" text-anchor="end" textLength="13.88" lengthAdjust="spacingAndGlyphs">–6</text>
<path d="M402.81 598.75C403.39 597.88 405.04 595.27 406.31 593.52C407.58 591.78 409.20 589.49 410.44 588.30C411.68 587.11 412.71 586.44 413.74 586.40C414.77 586.36 415.63 586.80 416.62 588.06C417.62 589.33 418.76 592.22 419.72 594.00C420.68 595.78 421.95 597.96 422.40 598.75C423.16 598.75 422.87 598.75 426.94 598.75C431.00 598.75 440.17 598.80 446.79 598.75C453.41 598.70 460.02 598.71 466.64 598.43C473.26 598.15 479.88 597.51 486.49 597.06C493.11 596.60 499.73 596.07 506.34 595.69C512.96 595.30 519.58 595.01 526.20 594.73C532.81 594.45 539.43 594.25 546.05 594.01C552.66 593.77 559.28 593.53 565.90 593.30C572.52 593.06 582.44 592.70 585.75 592.58" fill="none" stroke="#ee8d55" stroke-width="0.95" stroke-linejoin="round" stroke-linecap="round"/>
<path d="M409.61 598.75C410.78 596.97 414.77 590.83 416.62 588.06C418.48 585.29 419.03 584.86 420.75 582.12C422.47 579.39 425.29 574.17 426.94 571.67C428.59 569.18 429.69 568.07 430.65 567.16C431.61 566.25 432.02 566.01 432.71 566.21C433.40 566.41 434.05 567.12 434.77 568.35C435.50 569.58 436.15 571.16 437.04 573.58C437.94 575.99 438.93 579.43 440.14 582.84C441.34 586.24 443.02 591.47 444.26 594.00C445.50 596.53 447.01 597.36 447.56 598.04C448.59 598.16 449.97 598.73 453.75 598.75C457.53 598.77 464.75 598.46 470.25 598.18C475.75 597.89 481.25 597.42 486.75 597.04C492.25 596.66 497.75 596.25 503.25 595.90C508.75 595.55 514.25 595.22 519.75 594.96C525.25 594.71 530.75 594.57 536.25 594.37C541.75 594.17 547.25 593.97 552.75 593.77C558.25 593.57 563.75 593.37 569.25 593.17C574.75 592.98 583.00 592.68 585.75 592.58" fill="none" stroke="#f5d27a" stroke-width="0.95" stroke-linejoin="round" stroke-linecap="round"/>
<path d="M415.59 598.75C417.14 595.78 421.75 587.27 424.88 580.94C428.00 574.60 431.27 566.49 434.36 560.75C437.46 555.01 440.89 550.06 443.44 546.50C445.98 542.94 447.91 540.96 449.62 539.38C451.34 537.79 452.58 537.20 453.75 537.00C454.92 536.80 455.95 537.40 456.64 538.19C457.32 538.98 457.67 541.16 457.88 541.75C457.98 544.36 457.98 551.88 458.49 557.42C459.01 562.97 460.04 569.70 460.97 575.00C461.90 580.30 462.86 585.61 464.06 589.25C465.27 592.89 466.47 595.41 468.19 596.85C469.91 598.29 472.31 597.79 474.38 597.89C476.44 598.00 476.61 597.74 480.56 597.47C484.52 597.19 492.25 596.65 498.09 596.26C503.94 595.86 509.78 595.41 515.62 595.11C521.47 594.82 527.31 594.69 533.16 594.48C539.00 594.27 544.84 594.06 550.69 593.85C556.53 593.63 562.38 593.42 568.22 593.21C574.06 593.00 582.83 592.68 585.75 592.58" fill="none" stroke="#e4efe8" stroke-width="0.95" stroke-linejoin="round" stroke-linecap="round"/>
<path d="M419.72 598.75C421.27 595.78 425.80 587.27 429.00 580.94C432.20 574.60 435.12 567.68 438.90 560.75C442.68 553.82 447.84 544.92 451.69 539.38C455.54 533.83 459.25 530.19 462.00 527.50C464.75 524.81 466.37 524.18 468.19 523.23C470.01 522.27 471.56 521.88 472.93 521.80C474.31 521.72 475.51 522.20 476.44 522.75C477.37 523.30 478.16 524.73 478.50 525.12C478.77 527.90 479.53 535.65 480.15 541.75C480.77 547.85 481.87 558.38 482.21 561.70C482.42 562.14 482.62 560.83 483.45 564.31C484.27 567.80 485.68 577.57 487.16 582.60C488.64 587.63 490.33 592.21 492.32 594.48C494.31 596.74 496.96 595.97 499.12 596.18C501.29 596.40 501.60 595.97 505.31 595.76C509.02 595.54 516.04 595.14 521.40 594.90C526.76 594.66 532.12 594.52 537.49 594.32C542.85 594.13 548.21 593.93 553.58 593.74C558.94 593.55 564.30 593.35 569.66 593.16C575.02 592.97 583.07 592.67 585.75 592.58" fill="none" stroke="#bcd8ea" stroke-width="0.95" stroke-linejoin="round" stroke-linecap="round"/>
<path d="M424.88 598.75C426.25 596.18 430.00 589.65 433.12 583.31C436.25 576.98 439.52 568.86 443.64 560.75C447.77 552.64 453.48 542.15 457.88 534.62C462.27 527.10 466.61 520.57 470.04 515.62C473.48 510.68 476.23 507.31 478.50 504.94C480.77 502.56 482.11 502.13 483.66 501.38C485.20 500.62 486.23 500.43 487.78 500.43C489.33 500.43 491.05 500.62 492.94 501.38C494.83 502.13 497.41 503.75 499.12 504.94C500.84 506.12 502.32 507.43 503.25 508.50C504.18 509.57 504.45 510.88 504.69 511.35C504.87 514.04 505.28 516.89 505.73 527.50C506.17 538.11 506.69 564.91 507.38 575.00C508.06 585.09 508.61 584.98 509.85 588.06C511.09 591.15 512.46 592.40 514.80 593.52C517.14 594.65 520.99 594.65 523.88 594.81C526.76 594.98 528.52 594.65 532.12 594.52C535.73 594.39 541.06 594.19 545.53 594.03C550.00 593.87 554.47 593.71 558.94 593.55C563.41 593.39 567.88 593.22 572.34 593.06C576.81 592.90 583.52 592.66 585.75 592.58" fill="none" stroke="#74a5d2" stroke-width="0.95" stroke-linejoin="round" stroke-linecap="round"/>
<path d="M430.44 598.75C431.92 595.98 436.22 588.46 439.31 582.12C442.41 575.79 445.23 568.86 449.01 560.75C452.79 552.64 458.12 541.35 462.00 533.44C465.88 525.52 468.88 519.39 472.31 513.25C475.75 507.11 479.19 501.49 482.62 496.62C486.06 491.76 489.84 487.05 492.94 484.04C496.03 481.03 498.61 479.72 501.19 478.57C503.77 477.43 506.17 477.11 508.41 477.15C510.64 477.19 512.70 477.74 514.59 478.81C516.48 479.88 518.20 481.86 519.75 483.56C521.30 485.26 522.84 487.52 523.88 489.02C524.91 490.53 525.59 491.99 525.94 492.59C526.14 498.01 526.49 516.14 527.17 525.12C527.86 534.11 529.58 542.94 530.06 546.50C530.20 546.90 530.51 543.33 530.89 548.88C531.27 554.42 531.61 573.02 532.33 579.75C533.05 586.48 533.95 587.07 535.22 589.25C536.49 591.43 537.73 592.03 539.96 592.81C542.20 593.59 546.15 593.77 548.62 593.92C551.10 594.07 552.06 593.80 554.81 593.70C557.56 593.60 561.69 593.45 565.12 593.32C568.56 593.20 572.00 593.07 575.44 592.95C578.88 592.83 584.03 592.64 585.75 592.58" fill="none" stroke="#4a74b4" stroke-width="0.95" stroke-linejoin="round" stroke-linecap="round"/>
<path d="M437.66 598.75C439.31 595.78 444.12 587.39 447.56 580.94C451.00 574.49 454.51 568.15 458.29 560.04C462.07 551.92 466.19 541.63 470.25 532.25C474.31 522.87 478.84 512.06 482.62 503.75C486.41 495.44 489.50 488.79 492.94 482.38C496.38 475.96 500.16 469.75 503.25 465.27C506.34 460.80 508.92 457.95 511.50 455.54C514.08 453.12 516.66 451.70 518.72 450.79C520.78 449.88 521.98 449.96 523.88 450.08C525.77 450.19 527.66 450.19 530.06 451.50C532.47 452.81 535.91 455.54 538.31 457.91C540.72 460.29 542.64 463.10 544.50 465.75C546.36 468.40 548.62 472.48 549.45 473.82C549.86 482.38 551.03 508.26 551.92 525.12C552.82 541.99 553.92 564.79 554.81 575.00C555.71 585.21 556.26 583.75 557.29 586.40C558.32 589.05 559.01 589.92 561.00 590.91C562.99 591.90 565.12 592.06 569.25 592.34C573.38 592.61 583.00 592.54 585.75 592.58" fill="none" stroke="#303f5e" stroke-width="0.95" stroke-linejoin="round" stroke-linecap="round"/>
<text x="291.64" y="434.60" font-size="13.6" fill="#000" font-weight="bold" stroke="#000" stroke-width="0.5" transform="scale(1.1 1)">e</text>
<text x="388.40" y="450.00" font-size="13.2" textLength="121.80" lengthAdjust="spacingAndGlyphs"><tspan font-style="italic">V</tspan><tspan font-size="9.0" dy="3.30">b</tspan><tspan dy="-3.30"> is from –3 V to –9 V</tspan></text>
<text x="388.60" y="464.25" font-size="13.2" textLength="69.50" lengthAdjust="spacingAndGlyphs">in –1 V steps</text>
<text x="388.40" y="521.75" font-size="13.2" textLength="60.60" lengthAdjust="spacingAndGlyphs">PVR = 90.6</text>
<text x="388.40" y="536.90" font-size="13.2" textLength="63.00" lengthAdjust="spacingAndGlyphs">at <tspan font-style="italic">V</tspan><tspan font-size="9.0" dy="3.30">b</tspan><tspan dy="-3.30"> = –3 V</tspan></text>
<line x1="401.25" y1="545.00" x2="409.03" y2="579.46" stroke="#1a1a1a" stroke-width="1.0"/><polygon points="410.00,583.75 406.84,578.83 410.74,577.94" fill="#1a1a1a"/>
<text x="467.50" y="628.00" font-size="13.2" textLength="28.75" lengthAdjust="spacingAndGlyphs"><tspan font-style="italic">V</tspan><tspan font-size="9.0" dy="3.30">c</tspan><tspan dy="-3.30"> (V)</tspan></text>
<text x="0.00" y="0.00" font-size="13.2" text-anchor="middle" transform="translate(344.6 521.5) rotate(-90)" textLength="85.00" lengthAdjust="spacingAndGlyphs"><tspan font-style="italic">I</tspan><tspan font-size="9.0" dy="3.30">c</tspan><tspan dy="-3.30"> (10</tspan><tspan font-size="9.0" dy="-4.40">2</tspan><tspan dy="4.40"> µA µm</tspan><tspan font-size="9.0" dy="-4.40">–1</tspan><tspan dy="4.40">)</tspan></text>
</g>
</svg>
</body>
</html>
